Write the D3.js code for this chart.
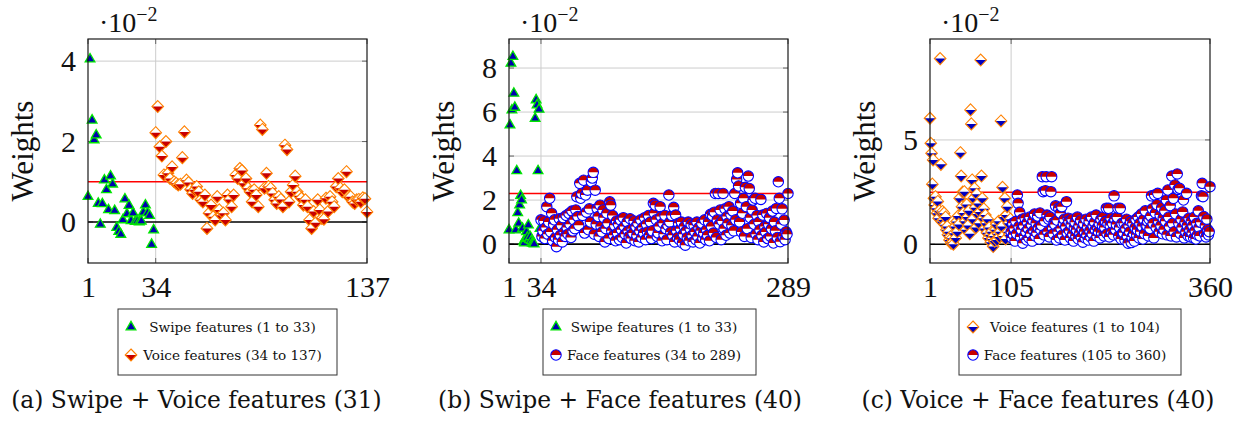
<!DOCTYPE html>
<html>
<head>
<meta charset="utf-8">
<script src="https://cdn.jsdelivr.net/npm/d3@7"></script>
<style>
  body { margin: 0; background: #fff; }
  svg { display: block; }
</style>
</head>
<body>
<svg id="fig" width="1250" height="423"></svg>
<script>
// ---- Feature weights (units of 1e-2) ----
// (a) Swipe + Voice
const swipeA = [0.63, 4.05, 2.53, 2.04, 2.16, 0.46, -0.06, 0.45, 1.04, 0.80, 0.30, 1.14, 0.94, 0.28, -0.14, -0.24,
  -0.31, 0.05, 0.57, 0.20, 0.41, 0.03, 0.22, 0.01, 0.02, 0.0, 0.02, 0.24, 0.42, 0.22, 0.16, -0.56, -0.2];
const voiceA = [2.22, 2.87, 1.87, 1.64, 1.17, 2.0, 1.21, 1.08, 1.37, 1.0, 0.96, 0.92, 0.94, 1.6, 2.24, 1.04,
  0.98, 0.81, 0.71, 0.8, 0.88, 0.75, 0.55, 0.5, 0.67, -0.16, 0.22, 0.42, 0.13, 0.05, 0.63, 0.3,
  0.17, 0.22, 0.05, 0.67, 0.56, 0.38, 0.67, 1.17, 1.08, 1.33, 1.28, 0.96, 1.08, 0.84, 0.75, 0.5,
  0.8, 0.67, 0.38, 2.41, 2.3, 0.84, 1.21, 0.88, 0.84, 0.71, 0.55, 0.46, 0.63, 0.56, 0.38, 1.91,
  1.8, 0.5, 0.75, 0.92, 1.14, 0.75, 0.65, 0.59, 0.42, 0.55, 0.38, 0.05, -0.16, 0.26, -0.02, 0.55,
  0.3, 0.09, 0.07, 0.59, 0.26, 0.63, 0.5, 0.38, 0.88, 1.08, 0.84, 0.75, 0.8, 1.25, 0.63, 0.63,
  0.5, 0.46, 0.55, 0.56, 0.5, 0.6, 0.58, 0.25];

// (b) Swipe + Face
const swipeB = [0.64, 5.41, 8.21, 6.09, 8.52, 6.85, 6.21, 0.64, 3.33, 1.42, 0.94, 1.77, 2.2, 2.0, 0.71, 0.1,
  0.05, 0.25, 0.56, 0.3, 0.86, 0.2, 0.33, 0.15, 0.05, 0.02, 0.0, 5.71, 6.55, 6.32, 3.33, 6.12, 0.7];
const faceB = [1.1, 0.35, 0.6, 1.05, 0.25, 0.75, 1.7, 0.45, 1.0, 2.08, 0.55, 1.4, 0.15, 0.9, 1.1, 0.3,
  -0.12, 0.65, 0.2, 1.15, 0.4, 0.85, 0.1, 1.2, 0.55, 0.35, 1.3, 0.75, 0.45, 1.39, 0.9, 0.3,
  1.5, 0.6, 1.1, 0.7, 1.55, 2.15, 1.25, 0.85, 2.76, 2.08, 2.3, 1.3, 2.9, 0.5, 2.23, 1.45,
  2.45, 0.65, 1.6, 1.0, 2.83, 3.0, 3.26, 0.45, 2.45, 0.9, 1.62, 1.25, 0.35, 1.77, 0.8, 0.55,
  1.55, 1.2, 0.1, 0.7, 1.4, 0.95, 0.25, 1.92, 1.77, 0.6, 1.3, 0.4, 0.85, 0.15, 1.05, 0.5,
  0.9, 0.2, 1.1, 0.65, 0.3, 1.2, 0.8, 0.45, 0.05, 1.0, 0.6, 0.35, 1.15, 0.25, 0.7, 0.5,
  1.05, 0.15, 0.8, 0.4, 0.95, 0.1, 0.6, 1.1, 0.3, 0.75, 0.5, 1.2, 0.2, 0.9, 0.55, 1.3,
  0.4, 1.0, 0.25, 0.6, 1.85, 1.4, 1.77, 1.1, 0.35, 0.5, 0.8, 1.7, 1.25, 0.15, 0.95, 0.45,
  1.3, 0.7, 0.2, 0.85, 2.23, 1.0, 0.55, 1.3, 0.4, 1.67, 0.1, 1.32, 0.6, 0.3, 0.95, 0.2,
  0.7, 1.0, 0.05, 0.45, 0.8, -0.05, 0.6, 0.3, 1.0, 0.15, 0.7, 0.9, 0.4, 0.1, 0.85, 0.55,
  0.2, 1.0, 0.35, 0.75, 0.05, 0.6, 0.95, 0.3, 0.5, 1.1, 0.2, 0.65, 0.4, 1.0, 0.15, 1.35,
  0.8, 1.3, 0.5, 1.45, 2.3, 0.3, 1.1, 2.3, 0.9, 1.55, 0.2, 1.05, 2.3, 0.7, 1.6, 0.4,
  1.25, 0.95, 1.7, 0.5, 1.35, 0.85, 1.5, 0.6, 2.3, 1.1, 2.94, 3.24, 2.64, 1.0, 1.85, 0.55,
  1.4, 2.08, 0.35, 2.58, 1.7, 0.7, 3.09, 2.53, 1.2, 0.3, 1.55, 2.0, 0.9, 2.08, 0.45, 1.3,
  0.2, 1.0, 0.65, 2.03, 0.4, 1.32, 0.1, 0.8, 0.55, 1.39, 0.25, 0.9, 1.2, 0.35, 0.7, 1.5,
  0.05, 1.0, 0.6, 1.62, 0.3, 2.83, 2.08, 0.11, 0.9, 1.6, 0.35, 1.09, 0.2, 0.56, 0.45, 2.3];

// (c) Voice + Face
const voiceC = [6.04, 4.84, 4.36, 2.88, 4.04, 2.2, 1.88, 2.28, 1.72, 1.49, 2.05, 1.25, 1.6, 8.9, 3.83, 1.09,
  1.57, 1.17, 1.49, 0.93, 1.3, 0.69, 0.85, 0.45, 0.6, 0.2, 0.35, 0.05, 0.29, 0.1, 0.0, 0.53,
  0.85, 0.3, 1.09, 0.6, 1.35, 0.95, 2.2, 4.39, 3.27, 1.8, 2.5, 1.5, 2.52, 1.1, 0.7, 1.9,
  1.3, 0.9, 1.6, 0.5, 6.44, 5.77, 3.08, 1.2, 2.2, 2.68, 1.75, 0.8, 2.4, 1.45, 1.95, 1.0,
  1.55, 8.83, 3.27, 2.2, 1.25, 1.7, 0.75, 1.4, 1.0, 0.55, 1.2, 0.3, 0.8, 0.45, 0.1, 0.6,
  0.25, -0.11, 0.4, 0.15, 0.7, 0.95, 0.2, 0.5, 1.1, 0.35, 0.6, 5.91, 0.85, 2.73, 0.4, 1.3,
  2.2, 0.25, 1.4, 1.8, 0.6, 1.0, 0.45, 1.2];
const faceC = [0.6, 0.3, 1.0, 0.45, 0.75, 0.15, 1.1, 0.5, 2.36, 1.96, 0.85, 1.53, 0.35, 0.7, 1.2, 0.05,
  0.9, 0.4, 1.25, 0.6, 0.2, 1.05, 0.75, 0.3, 1.3, 0.5, 0.95, 0.15, 1.15, 0.65, 1.45, 0.4,
  1.0, 0.55, 1.35, 0.8, 0.25, 1.5, 0.7, 0.9, 3.24, 2.52, 0.45, 1.1, 2.57, 3.24, 1.4, 0.6,
  1.2, 0.35, 1.3, 2.52, 3.24, 0.8, 0.5, 1.05, 0.95, 1.84, 0.2, 1.15, 0.6, 1.73, 0.3, 1.49,
  0.75, 1.8, 0.45, 1.0, 1.2, 0.2, 0.85, 2.04, 0.55, 1.25, 1.1, 0.65, 0.3, 0.95, 1.2, 0.5,
  0.15, 0.8, 1.05, 0.4, 0.7, 1.3, 0.25, 0.9, 0.55, 1.15, 0.35, 0.75, 0.1, 1.0, 0.6, 0.3,
  1.2, 0.45, 0.85, 0.2, 1.1, 0.65, 0.35, 1.3, 0.5, 0.9, 0.15, 1.05, 0.7, 1.4, 0.4, 0.8,
  0.6, 1.0, 0.3, 1.2, 0.55, 0.9, 1.3, 0.4, 0.8, 1.1, 1.73, 0.5, 1.0, 1.72, 0.35, 0.9,
  1.25, 0.6, 1.0, 0.45, 2.32, 1.2, 0.7, 0.95, 1.3, 1.73, 0.4, 0.8, 1.72, 0.25, 1.0, 0.55,
  0.55, 1.0, 0.2, 0.75, 1.2, 0.4, 0.05, 0.9, 0.6, 1.1, 0.08, 0.35, 1.0, 0.5, 0.15, 0.8,
  1.2, 0.45, 0.7, 1.3, 0.3, 1.0, 0.6, 1.45, 0.85, 0.25, 1.2, 0.5, 1.6, 0.9, 0.9, 1.1,
  0.4, 1.2, 0.75, 1.35, 2.32, 1.7, 1.0, 0.3, 2.36, 1.5, 0.8, 1.9, 2.44, 1.1, 0.6, 1.4,
  0.9, 1.75, 0.5, 1.25, 0.7, 1.6, 1.1, 2.12, 0.45, 2.6, 1.3, 0.85, 1.85, 0.4, 3.27, 1.0,
  2.2, 0.6, 2.84, 1.45, 0.35, 3.37, 2.63, 1.0, 2.68, 0.5, 1.2, 0.8, 1.55, 2.12, 0.3, 1.05,
  0.6, 2.44, 0.9, 0.4, 1.25, 0.7, 0.35, 1.1, 0.55, 0.9, 0.3, 1.3, 0.65, 0.25, 1.0, 0.45,
  1.6, 0.8, 0.4, 1.05, 2.32, 2.92, 2.28, 1.33, 0.5, 0.9, 0.35, 1.2, 0.7, 0.45, 0.6, 2.76];

// Selection thresholds (red lines)
const thresholdA = 1.0, thresholdB = 2.3, thresholdC = 2.49;

// Axis ticks
const xTicksA = [1, 34, 137], xTicksB = [1, 34, 289], xTicksC = [1, 105, 360];
const yTicksA = [0, 2, 4], yTicksB = [0, 2, 4, 6, 8], yTicksC = [0, 5];

// Texts
const legendA = ["Swipe features (1 to 33)", "Voice features (34 to 137)"];
const legendB = ["Swipe features (1 to 33)", "Face features (34 to 289)"];
const legendC = ["Voice features (1 to 104)", "Face features (105 to 360)"];
const captions = ["(a) Swipe + Voice features (31)", "(b) Swipe + Face features (40)", "(c) Voice + Face features (40)"];

// ---- Layout ----
const TOP = 39, BOTTOM = 263;
const panels = [
  { left: 88, right: 367, xDomain: [1, 137], yDomain: [-1.02, 4.55], xTicks: xTicksA, yTicks: yTicksA,
    split: 34, threshold: thresholdA,
    series: [{ start: 1, values: swipeA, mark: "triangle" }, { start: 34, values: voiceA, mark: "diamondRed" }],
    legend: legendA, legendMarks: ["triangle", "diamondRed"], legendBox: [118, 337], legendMarkX: 131, legendTextX: 232.5,
    caption: captions[0], captionX: 196.5 },
  { left: 509, right: 788, xDomain: [1, 289], yDomain: [-0.86, 9.32], xTicks: xTicksB, yTicks: yTicksB,
    split: 34, threshold: thresholdB,
    series: [{ start: 1, values: swipeB, mark: "triangle" }, { start: 34, values: faceB, mark: "circle" }],
    legend: legendB, legendMarks: ["triangle", "circle"], legendBox: [543, 756], legendMarkX: 556, legendTextX: 654,
    caption: captions[1], captionX: 620 },
  { left: 930, right: 1210, xDomain: [1, 360], yDomain: [-0.9, 9.84], xTicks: xTicksC, yTicks: yTicksC,
    split: 105, threshold: thresholdC,
    series: [{ start: 1, values: voiceC, mark: "diamondBlue" }, { start: 105, values: faceC, mark: "circle" }],
    legend: legendC, legendMarks: ["diamondBlue", "circle"], legendBox: [959, 1181], legendMarkX: 973, legendTextX: 1075,
    caption: captions[2], captionX: 1038 }
];

const TICK_FONT = "'Liberation Serif', 'Times New Roman', serif";
const TEXT_FONT = "'DejaVu Serif', serif";

const svg = d3.select("#fig");

// ---- Marker glyphs ----
function drawMark(g, kind) {
  if (kind === "triangle") {
    const r = 5.6;
    g.append("path")
      .attr("d", `M0,${-r} L${0.866 * r},${0.5 * r} L${-0.866 * r},${0.5 * r} Z`)
      .attr("fill", "#0000b0").attr("stroke", "#00e600").attr("stroke-width", 1.3)
      .attr("stroke-linejoin", "miter");
  } else if (kind === "diamondRed" || kind === "diamondBlue") {
    const w = 5.8, h = 6.0;
    const lower = kind === "diamondRed" ? "#c80000" : "#0000c0";
    g.append("path").attr("d", `M0,${-h} L${w},0 L0,${h} L${-w},0 Z`).attr("fill", "#fff");
    g.append("path").attr("d", `M${-w},0 L${w},0 L0,${h} Z`).attr("fill", lower);
    g.append("path").attr("d", `M0,${-h} L${w},0 L0,${h} L${-w},0 Z`)
      .attr("fill", "none").attr("stroke", "#ff8000").attr("stroke-width", 1.1);
  } else if (kind === "circle") {
    const r = 5.2;
    g.append("circle").attr("r", r).attr("fill", "#fff");
    g.append("path").attr("d", `M${-r},0 A${r},${r} 0 0 1 ${r},0 Z`).attr("fill", "#c80000");
    g.append("circle").attr("r", r).attr("fill", "none").attr("stroke", "#0000ff").attr("stroke-width", 1.1);
  }
}

panels.forEach(p => {
  const x = d3.scaleLinear().domain(p.xDomain).range([p.left, p.right]);
  const y = d3.scaleLinear().domain(p.yDomain).range([BOTTOM, TOP]);
  const g = svg.append("g");

  // grid
  g.append("g").selectAll("line").data(p.yTicks.filter(t => t !== 0)).join("line")
    .attr("x1", p.left).attr("x2", p.right).attr("y1", d => y(d)).attr("y2", d => y(d))
    .attr("stroke", "#cccccc").attr("stroke-width", 1);
  g.append("line").attr("x1", x(p.split)).attr("x2", x(p.split)).attr("y1", TOP).attr("y2", BOTTOM)
    .attr("stroke", "#cccccc").attr("stroke-width", 1);

  // tick marks inside the frame
  const tl = 5;
  p.yTicks.forEach(t => {
    g.append("line").attr("x1", p.left).attr("x2", p.left + tl).attr("y1", y(t)).attr("y2", y(t))
      .attr("stroke", "#666").attr("stroke-width", 1);
    g.append("line").attr("x1", p.right - tl).attr("x2", p.right).attr("y1", y(t)).attr("y2", y(t))
      .attr("stroke", "#666").attr("stroke-width", 1);
  });
  p.xTicks.forEach(t => {
    g.append("line").attr("x1", x(t)).attr("x2", x(t)).attr("y1", BOTTOM).attr("y2", BOTTOM - tl)
      .attr("stroke", "#666").attr("stroke-width", 1);
    g.append("line").attr("x1", x(t)).attr("x2", x(t)).attr("y1", TOP).attr("y2", TOP + tl)
      .attr("stroke", "#666").attr("stroke-width", 1);
  });

  // zero line and threshold
  g.append("line").attr("x1", p.left).attr("x2", p.right).attr("y1", y(0)).attr("y2", y(0))
    .attr("stroke", "#000").attr("stroke-width", 1.6);
  g.append("line").attr("x1", p.left).attr("x2", p.right).attr("y1", y(p.threshold)).attr("y2", y(p.threshold))
    .attr("stroke", "#ff0000").attr("stroke-width", 1.6);

  // points
  p.series.forEach(s => {
    const pts = g.append("g");
    s.values.forEach((v, i) => {
      const m = pts.append("g").attr("transform", `translate(${x(s.start + i)},${y(v)})`);
      drawMark(m, s.mark);
    });
  });

  // frame
  g.append("rect").attr("x", p.left).attr("y", TOP).attr("width", p.right - p.left).attr("height", BOTTOM - TOP)
    .attr("fill", "none").attr("stroke", "#1a1a1a").attr("stroke-width", 1.2);

  // axes labels
  const ya = g.append("g").attr("transform", `translate(${p.left},0)`)
    .call(d3.axisLeft(y).tickValues(p.yTicks).tickSize(0).tickPadding(12).tickFormat(d3.format("d")));
  ya.select(".domain").remove();
  ya.selectAll("text").attr("font-family", TICK_FONT).attr("font-size", 30).attr("fill", "#111");

  const xa = g.append("g").attr("transform", `translate(0,${BOTTOM})`)
    .call(d3.axisBottom(x).tickValues(p.xTicks).tickSize(0).tickPadding(13).tickFormat(d3.format("d")));
  xa.select(".domain").remove();
  xa.selectAll("text").attr("font-family", TICK_FONT).attr("font-size", 30).attr("fill", "#111");

  // scale multiplier
  const mult = g.append("text").attr("x", p.left + 11).attr("y", 32)
    .attr("font-family", TICK_FONT).attr("font-size", 28).attr("fill", "#111");
  mult.append("tspan").text("·10");
  mult.append("tspan").attr("dy", -11).attr("font-size", 20).text("−2");

  // y title
  g.append("text").attr("transform", `translate(${p.left - 55},${(TOP + BOTTOM) / 2}) rotate(-90)`)
    .attr("text-anchor", "middle").attr("font-family", TICK_FONT).attr("font-size", 31).attr("fill", "#111")
    .text("Weights");

  // legend
  g.append("rect").attr("x", p.legendBox[0]).attr("y", 309).attr("width", p.legendBox[1] - p.legendBox[0]).attr("height", 66)
    .attr("fill", "#fff").attr("stroke", "#333").attr("stroke-width", 1);
  p.legend.forEach((label, i) => {
    const cy = 327 + i * 28;
    const m = g.append("g").attr("transform", `translate(${p.legendMarkX},${cy})`);
    drawMark(m, p.legendMarks[i]);
    g.append("text").attr("x", p.legendTextX).attr("y", cy + 5).attr("text-anchor", "middle")
      .attr("font-family", TEXT_FONT).attr("font-size", 13.6).attr("fill", "#111").text(label);
  });

  // caption
  g.append("text").attr("x", p.captionX).attr("y", 408).attr("text-anchor", "middle")
    .attr("font-family", TEXT_FONT).attr("font-size", 23.4).attr("fill", "#111").text(p.caption);
});
</script>
</body>
</html>
